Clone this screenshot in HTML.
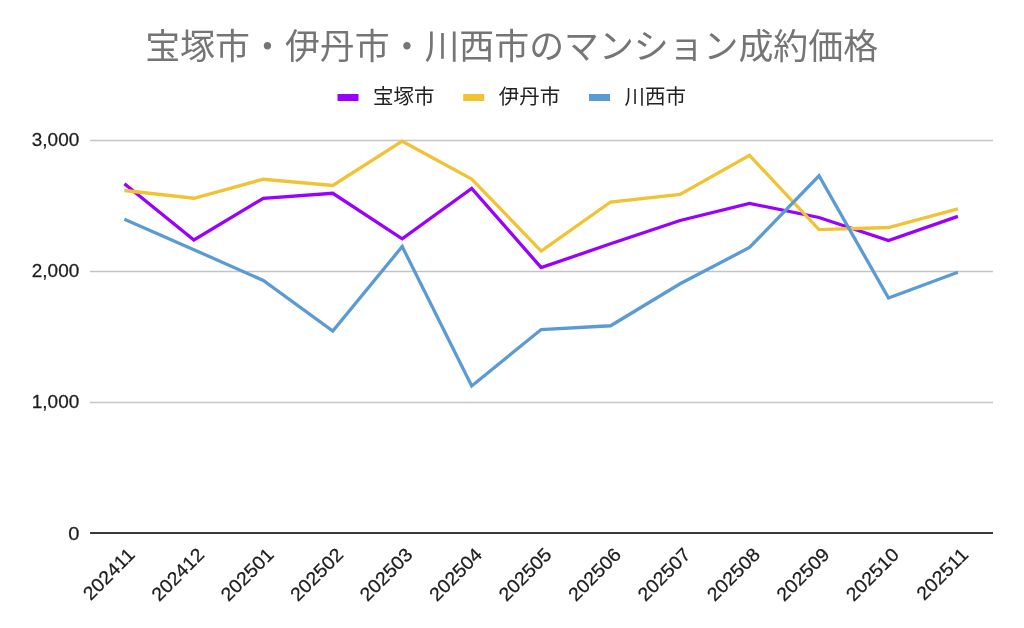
<!DOCTYPE html>
<html lang="ja">
<head>
<meta charset="utf-8">
<title>宝塚市・伊丹市・川西市のマンション成約価格</title>
<style>
html,body{margin:0;padding:0;background:#fff;}
body{width:1024px;height:628px;overflow:hidden;}
svg{display:block;}
.jp{font-family:"Liberation Sans","Noto Sans CJK JP",sans-serif;}
.num{font-family:"Liberation Sans",sans-serif;font-size:18.8px;fill:#1c1c1c;stroke:#1c1c1c;stroke-width:0.25px;}
</style>
</head>
<body>
<svg width="1024" height="628" viewBox="0 0 1024 628">
<rect x="0" y="0" width="1024" height="628" fill="#ffffff"/>
<text class="jp" x="511.7" y="59" text-anchor="middle" font-size="34.9" fill="#757575">宝塚市・伊丹市・川西市のマンション成約価格</text>
<g>
<rect x="337.5" y="94" width="21" height="7" fill="#9900ff"/>
<text class="jp" x="373" y="103.8" font-size="20.5" fill="#222">宝塚市</text>
<rect x="463.2" y="94" width="21" height="7" fill="#f1c232"/>
<text class="jp" x="498.8" y="103.8" font-size="20.5" fill="#222">伊丹市</text>
<rect x="589" y="94" width="21" height="7" fill="#5b9bd5"/>
<text class="jp" x="624.5" y="103.8" font-size="20.5" fill="#222">川西市</text>
</g>
<g stroke="#c4c4c4" stroke-width="1.6">
<line x1="90" y1="140.5" x2="993" y2="140.5"/>
<line x1="90" y1="271.5" x2="993" y2="271.5"/>
<line x1="90" y1="402.5" x2="993" y2="402.5"/>
</g>
<line x1="90" y1="533" x2="993" y2="533" stroke="#3a3a3a" stroke-width="2"/>
<g class="num" text-anchor="end">
<text transform="translate(79.2,145.9) scale(1.008,1)">3,000</text>
<text transform="translate(79.2,277) scale(1.008,1)">2,000</text>
<text transform="translate(79.2,408) scale(1.008,1)">1,000</text>
<text transform="translate(79.5,539.6) scale(1.07,1)">0</text>
</g>
<g fill="none" stroke-width="3.3" stroke-linejoin="miter" stroke-linecap="butt">
<polyline stroke="#9900ff" points="124.4,183.75 193.9,240.00 263.3,198.25 332.8,193.25 402.2,238.80 471.7,188.50 541.2,267.60 610.6,243.80 680.1,220.50 749.5,203.40 819.0,217.50 888.5,240.60 957.9,216.40"/>
<polyline stroke="#f1c232" points="124.4,190.50 193.9,198.25 263.3,179.25 332.8,185.50 402.2,141.20 471.7,179.00 541.2,251.10 610.6,202.00 680.1,194.40 749.5,155.30 819.0,229.70 888.5,227.50 957.9,208.80"/>
<polyline stroke="#5b9bd5" points="124.4,219.20 193.9,249.70 263.3,280.50 332.8,331.10 402.2,246.50 471.7,386.00 541.2,329.50 610.6,325.75 680.1,283.75 749.5,247.50 819.0,175.80 888.5,298.00 957.9,272.30"/>
</g>
<g class="num" text-anchor="end">
<text transform="translate(136.0,555.9) rotate(-45) scale(1.044,1)">202411</text>
<text transform="translate(205.5,555.9) rotate(-45) scale(1.044,1)">202412</text>
<text transform="translate(274.9,555.9) rotate(-45) scale(1.044,1)">202501</text>
<text transform="translate(344.4,555.9) rotate(-45) scale(1.044,1)">202502</text>
<text transform="translate(413.8,555.9) rotate(-45) scale(1.044,1)">202503</text>
<text transform="translate(483.3,555.9) rotate(-45) scale(1.044,1)">202504</text>
<text transform="translate(552.8,555.9) rotate(-45) scale(1.044,1)">202505</text>
<text transform="translate(622.2,555.9) rotate(-45) scale(1.044,1)">202506</text>
<text transform="translate(691.7,555.9) rotate(-45) scale(1.044,1)">202507</text>
<text transform="translate(761.1,555.9) rotate(-45) scale(1.044,1)">202508</text>
<text transform="translate(830.6,555.9) rotate(-45) scale(1.044,1)">202509</text>
<text transform="translate(900.1,555.9) rotate(-45) scale(1.044,1)">202510</text>
<text transform="translate(969.5,555.9) rotate(-45) scale(1.044,1)">202511</text>
</g>
</svg>
</body>
</html>
